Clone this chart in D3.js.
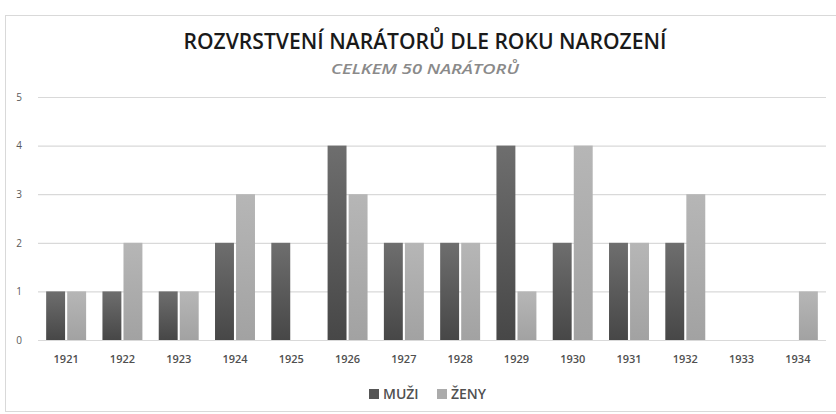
<!DOCTYPE html>
<html>
<head>
<meta charset="utf-8">
<script src="https://cdn.jsdelivr.net/npm/d3@7"></script>
<style>
  html, body { margin: 0; padding: 0; background: #fff; }
  svg { display: block; font-family: "Open Sans", "Liberation Sans", sans-serif; }
</style>
</head>
<body>
<div id="chart"></div>
<script>
const years = ["1921", "1922", "1923", "1924", "1925", "1926", "1927", "1928", "1929", "1930", "1931", "1932", "1933", "1934"];
const muzi = [1, 1, 1, 2, 2, 4, 2, 2, 4, 2, 2, 2, 0, 0];
const zeny = [1, 2, 1, 3, 0, 3, 2, 2, 1, 4, 2, 3, 0, 1];
const seriesNames = ["MUŽI", "ŽENY"];
const yTicks = [0, 1, 2, 3, 4, 5];

const W = 836, H = 414;
const margin = { top: 97, right: 10, bottom: 74, left: 38 };
const width = W - margin.left - margin.right;
const height = H - margin.top - margin.bottom;

const svg = d3.select("#chart").append("svg").attr("width", W).attr("height", H);

const defs = svg.append("defs");
function grad(id, top, bottom) {
	const g = defs.append("linearGradient").attr("id", id).attr("x1", 0).attr("y1", 0).attr("x2", 0).attr("y2", 1);
	g.append("stop").attr("offset", "0%").attr("stop-color", top);
	g.append("stop").attr("offset", "100%").attr("stop-color", bottom);
}
grad("gDark", "#6e6e6e", "#474747");
grad("gLight", "#b6b6b6", "#a2a2a2");
const fills = ["url(#gDark)", "url(#gLight)"];
const legendFills = ["#555555", "#ababab"];

// chart frame
svg.append("rect").attr("x", 5.5).attr("y", 15.5).attr("width", W - 5).attr("height", H - 18)
	.attr("fill", "none").attr("stroke", "#d9d9d9");

svg.append("text").attr("x", 425).attr("y", 49).attr("text-anchor", "middle")
	.attr("font-size", 22).attr("font-weight", 600).attr("fill", "#1a1a1a")
	.attr("textLength", 483).attr("lengthAdjust", "spacingAndGlyphs")
	.text("ROZVRSTVENÍ NARÁTORŮ DLE ROKU NAROZENÍ");

svg.append("text").attr("x", 425).attr("y", 74).attr("text-anchor", "middle")
	.attr("font-size", 15).attr("font-weight", 600).attr("font-style", "italic").attr("fill", "#8a8a8a")
	.attr("textLength", 188).attr("lengthAdjust", "spacingAndGlyphs")
	.text("CELKEM 50 NARÁTORŮ");

const g = svg.append("g").attr("transform", `translate(${margin.left},${margin.top})`);

const x = d3.scaleBand().domain(years).range([0, width]).paddingInner(0.29).paddingOuter(0.145);
const x1 = d3.scaleBand().domain([0, 1]).range([0, x.bandwidth()]).paddingInner(0.1);
const y = d3.scaleLinear().domain([0, 5]).range([height, 0]);

// gridlines
g.append("g").selectAll("line").data(yTicks).join("line")
	.attr("x1", 0).attr("x2", width)
	.attr("y1", d => y(d) + 0.5).attr("y2", d => y(d) + 0.5)
	.attr("stroke", "#d9d9d9").attr("stroke-width", 1.2);

const yAxis = g.append("g").call(d3.axisLeft(y).tickValues(yTicks).tickFormat(d3.format("d")).tickSize(0).tickPadding(16));
yAxis.select(".domain").remove();
yAxis.selectAll("text").attr("font-size", 10).attr("fill", "#595959").attr("font-family", "Open Sans, sans-serif");

const xAxis = g.append("g").attr("transform", `translate(0,${height})`)
	.call(d3.axisBottom(x).tickSize(0).tickPadding(15));
xAxis.select(".domain").remove();
xAxis.selectAll("text").attr("font-size", 11).attr("font-weight", 600).attr("fill", "#505050")
	.attr("font-family", "Open Sans, sans-serif");

const data = years.map((yr, i) => ({ year: yr, values: [muzi[i], zeny[i]] }));

g.append("g").selectAll("g").data(data).join("g")
	.attr("transform", d => `translate(${x(d.year)},0)`)
	.selectAll("rect").data(d => d.values.map((v, k) => ({ k, v })).filter(e => e.v > 0)).join("rect")
	.attr("x", d => x1(d.k))
	.attr("width", x1.bandwidth())
	.attr("y", d => y(d.v))
	.attr("height", d => y(0) - y(d.v))
	.attr("fill", d => fills[d.k]);

// legend
const legend = svg.append("g").attr("transform", "translate(369,394)");
const items = legend.selectAll("g").data(seriesNames).join("g")
	.attr("transform", (d, i) => `translate(${i * 68},0)`);
items.append("rect").attr("x", 0).attr("y", -5).attr("width", 10).attr("height", 10)
	.attr("fill", (d, i) => legendFills[i]);
items.append("text").attr("x", 14).attr("y", 0).attr("dy", "0.36em")
	.attr("font-size", 14).attr("font-weight", 600).attr("fill", "#505050").text(d => d);
</script>
</body>
</html>
